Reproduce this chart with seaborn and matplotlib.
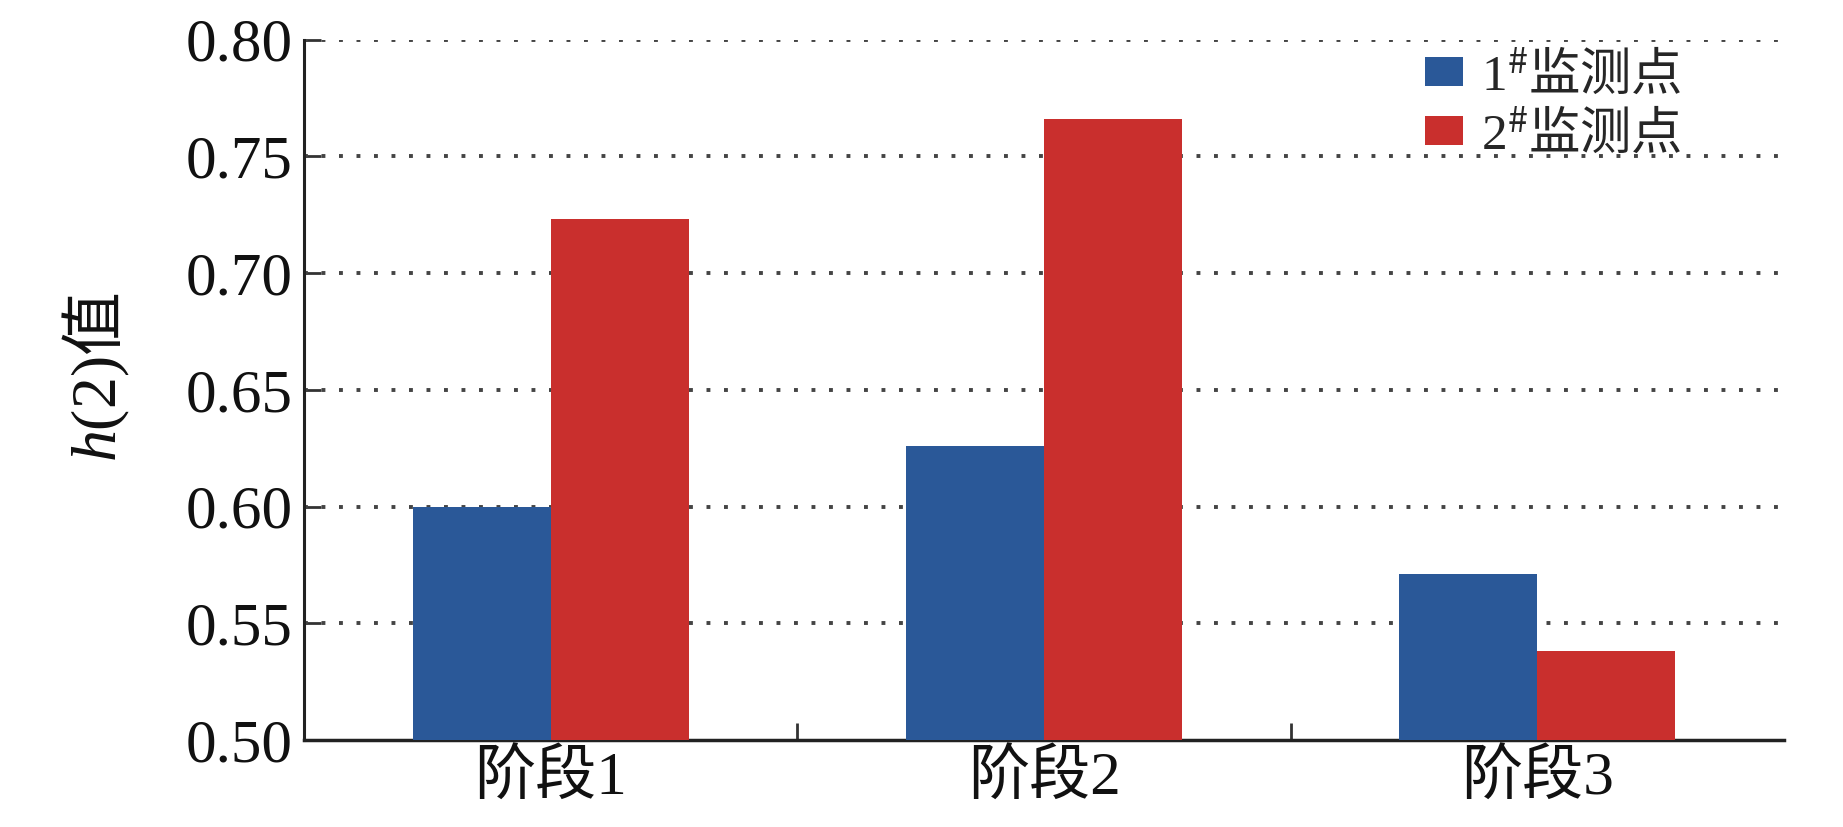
import pandas as pd
import matplotlib
matplotlib.use('Agg')
import matplotlib.pyplot as plt
import seaborn as sns

# data
stages = ['阶段1', '阶段2', '阶段3']
point1 = [0.600, 0.626, 0.571]
point2 = [0.723, 0.766, 0.538]
series_names = ['1$^{\\#}\\mathrm{监测点}$', '2$^{\\#}\\mathrm{监测点}$']
y_ticks = [0.50, 0.55, 0.60, 0.65, 0.70, 0.75, 0.80]

df = pd.DataFrame({
    'stage': stages * 2,
    'value': point1 + point2,
    'series': [series_names[0]] * 3 + [series_names[1]] * 3,
})

sns.set_style('white')
plt.rcParams['font.family'] = ['Liberation Serif', 'Noto Sans CJK SC']
# mathtext: italic from Liberation Serif, CJK through \mathrm
plt.rcParams['mathtext.fontset'] = 'custom'
plt.rcParams['mathtext.it'] = 'Liberation Serif:italic'
plt.rcParams['mathtext.rm'] = 'Noto Sans CJK SC'

fig = plt.figure(figsize=(18.43, 8.27), dpi=100)
ax = fig.add_axes([0.165, 0.105, 0.803, 0.847])

colors = ['#2a5898', '#c92f2d']
sns.barplot(data=df, x='stage', y='value', hue='series', palette=colors,
            width=0.56, gap=0, saturation=1, linewidth=0, ax=ax, zorder=3)

ax.set_ylim(0.50, 0.80)
ax.set_xlim(-0.5, 2.5)
ax.set_yticks(y_ticks)
ax.set_yticklabels([f'{v:.2f}' for v in y_ticks])

# dotted horizontal grid
for v in y_ticks[1:]:
    ax.axhline(v, color='#444444', linestyle=(0, (1, 3.5)), linewidth=2.8, zorder=1)

ax.spines['top'].set_visible(False)
ax.spines['right'].set_visible(False)
ax.spines['left'].set_linewidth(2.2)
ax.spines['bottom'].set_linewidth(2.5)
ax.spines['left'].set_color('#222222')
ax.spines['bottom'].set_color('#222222')

ax.tick_params(axis='y', left=True, direction='in', length=12, width=2,
               color='#333333', labelsize=44, pad=8, labelcolor='#111111')
ax.tick_params(axis='x', which='major', bottom=True, length=0, labelsize=44,
               pad=8, labelcolor='#111111')
ax.set_xticks([0.5, 1.5], minor=True)
ax.tick_params(axis='x', which='minor', bottom=True, direction='in',
               length=12, width=2, color='#333333')

ax.set_xlabel('')
ax.set_ylabel('$h$(2)$\\mathrm{值}$', fontsize=46, color='#111111')
ax.yaxis.set_label_coords(-0.116, 0.518)

leg = ax.legend(loc='upper right', bbox_to_anchor=(0.945, 1.015), frameon=False,
                fontsize=37, handlelength=0.75, handleheight=0.5,
                handletextpad=0.35, labelspacing=0.15, borderaxespad=0)

plt.savefig('out.png', dpi=100)
